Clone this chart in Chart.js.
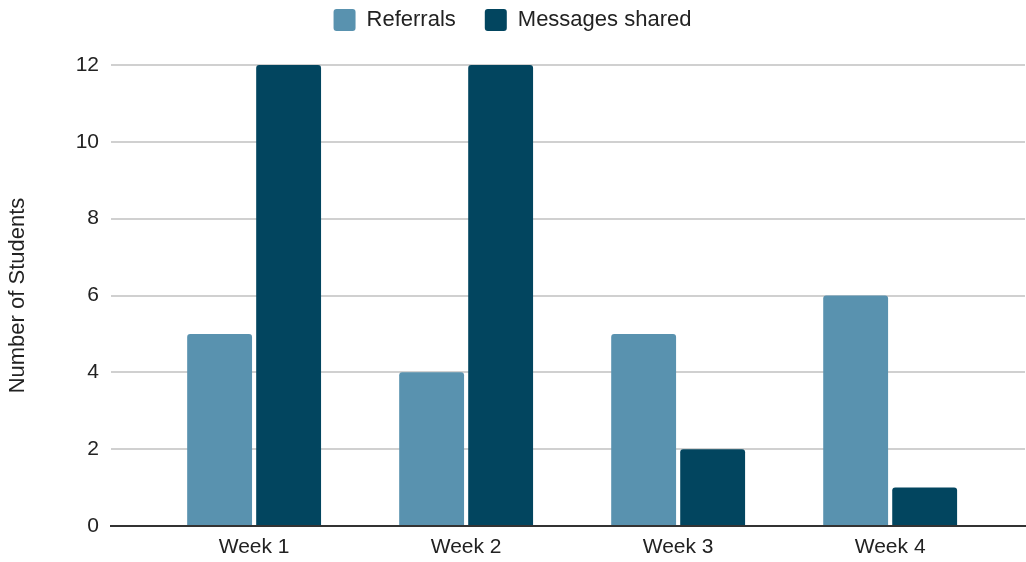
<!DOCTYPE html>
<html>
<head>
<meta charset="utf-8">
<script src="https://cdn.jsdelivr.net/npm/chart.js@4"></script>
<style>
html,body{margin:0;padding:0;background:#fff;}
#wrap{width:1026px;height:562px;position:relative;}
</style>
</head>
<body>
<div id="wrap"><canvas id="c"></canvas></div>
<script>
const categories = ["Week 1", "Week 2", "Week 3", "Week 4"];
const referrals = [5, 4, 5, 6];
const messagesShared = [12, 12, 2, 1];
const yTicks = [0, 2, 4, 6, 8, 10, 12];

const FONT = "'Liberation Sans', Arial, sans-serif";
const toPoints = arr => arr.map((v, i) => ({x: i, y: v}));

// add extra space under the legend
const legendSpacer = {
  id: 'legendSpacer',
  beforeLayout(chart) {
    const lg = chart.legend;
    if (lg && !lg._spacerPatched) {
      const orig = lg.fit;
      lg.fit = function () { orig.call(this); this.height += 24; };
      lg._spacerPatched = true;
    }
  }
};

new Chart(document.getElementById('c'), {
  type: 'bar',
  data: {
    datasets: [
      {label: 'Referrals', data: toPoints(referrals), backgroundColor: '#5992af',
       borderRadius: {topLeft: 3, topRight: 3}, borderSkipped: 'start'},
      {label: 'Messages shared', data: toPoints(messagesShared), backgroundColor: '#02455f',
       borderRadius: {topLeft: 3, topRight: 3}, borderSkipped: 'start'}
    ]
  },
  plugins: [legendSpacer],
  options: {
    responsive: true,
    maintainAspectRatio: false,
    animation: false,
    categoryPercentage: 0.651,
    barPercentage: 0.94,
    layout: {padding: {top: -20, right: 1, bottom: 0, left: 0}},
    plugins: {
      legend: {
        position: 'top',
        labels: {
          font: {family: FONT, size: 22},
          color: '#222',
          boxWidth: 22, boxHeight: 22,
          useBorderRadius: true, borderRadius: 3,
          padding: 29
        }
      },
      tooltip: {enabled: false}
    },
    scales: {
      x: {
        type: 'linear',
        offset: false,
        min: -0.675,
        max: 3.636,
        afterBuildTicks: s => { s.ticks = categories.map((c, i) => ({value: i})); },
        afterFit: s => { s.height = 36; },
        ticks: {
          callback: v => categories[v],
          font: {family: FONT, size: 21},
          color: '#222',
          padding: 9,
          autoSkip: false,
          maxRotation: 0
        },
        grid: {display: false, drawTicks: false},
        border: {display: true, color: '#333', width: 2}
      },
      y: {
        min: 0, max: 12,
        afterBuildTicks: s => { s.ticks = yTicks.map(v => ({value: v})); },
        afterFit: s => { s.width = 111; },
        ticks: {
          font: {family: FONT, size: 21},
          color: '#222',
          padding: 12
        },
        title: {
          display: true,
          text: 'Number of Students',
          font: {family: FONT, size: 22},
          color: '#222',
          padding: {top: 5, bottom: 0}
        },
        grid: {color: '#d0d0d0', lineWidth: 2, drawTicks: false},
        border: {display: false}
      }
    }
  }
});
</script>
</body>
</html>
